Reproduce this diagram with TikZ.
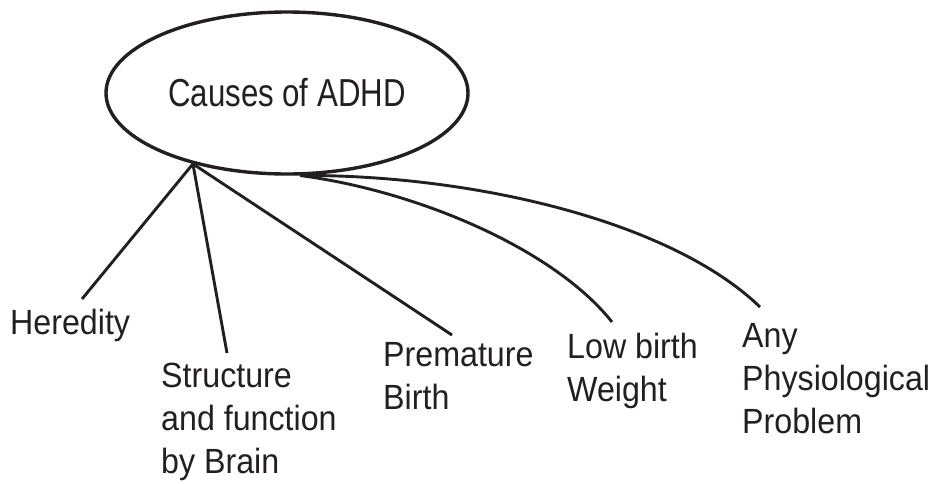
\documentclass[tikz,border=0pt]{standalone}
\usepackage{fontspec}
\setmainfont{Liberation Sans}[FakeStretch=0.92]
\newfontfamily\titlefont{Liberation Sans}[FakeStretch=0.80]
\usetikzlibrary{shapes.geometric}
\usepackage{xcolor}
\definecolor{inkblack}{HTML}{231F20}

\begin{document}
\begin{tikzpicture}[
  x=1pt, y=-1pt,
  font=\fontsize{35}{43}\selectfont,
  causebox/.style={
    ellipse,
    draw=inkblack,
    line width=3.4pt,
    minimum width=362pt,
    minimum height=162pt,
    inner sep=0pt,
    text=inkblack,
    font=\titlefont\fontsize{39}{43}\selectfont
  },
  factor/.style={anchor=north west, align=left, inner sep=0pt, text=inkblack},
  branch/.style={draw=inkblack, line width=2.9pt}
]
  \useasboundingbox (0,0) rectangle (935,483);

  \node[causebox] (causes) at (287,93) {Causes of ADHD};

  \node[factor] (heredity) at (10,309) {Heredity};
  \node[factor] (brain) at (161,363) {Structure\\and function\\by Brain};
  \node[factor] (premature) at (383,342) {Premature\\Birth};
  \node[factor] (lowweight) at (567,333) {Low birth\\Weight};
  \node[factor] (physio) at (742,323) {Any\\Physiological\\Problem};

  % straight branches from the left hub
  \draw[branch] (causes.217) -- ([shift={(72,-10)}]heredity.north west);
  \draw[branch] (causes.217) -- ([shift={(66,-10)}]brain.north west);
  \draw[branch] (causes.217) -- ([shift={(69,-7)}]premature.north west);

  % curved branches from the lower hub
  \draw[branch] (causes.279) .. controls +(120,16) and +(-57,-72) .. ([shift={(45,-11)}]lowweight.north west);
  \draw[branch] (causes.279) .. controls +(170,-1) and +(-90,-87) .. ([shift={(18,-16)}]physio.north west);
\end{tikzpicture}
\end{document}
